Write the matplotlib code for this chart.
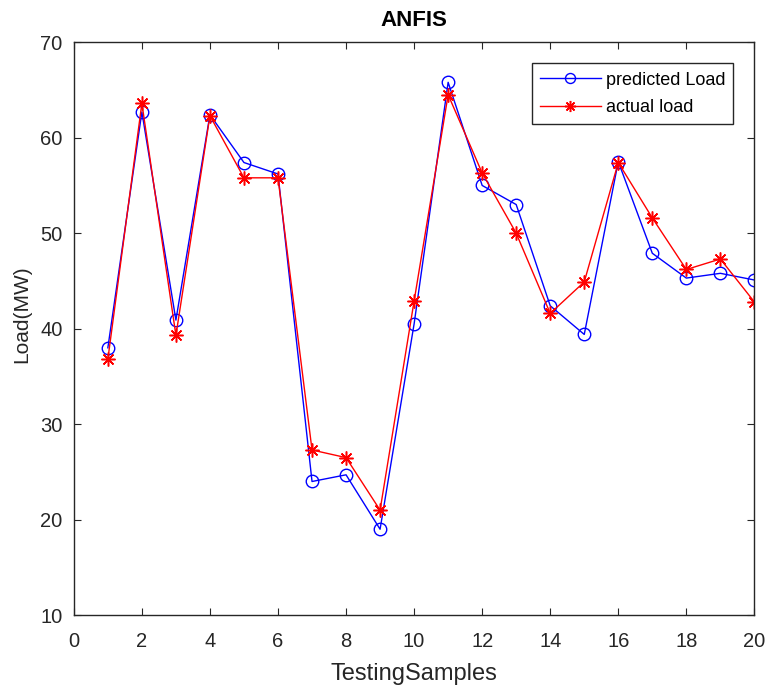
import numpy as np
import matplotlib
matplotlib.use('Agg')
import matplotlib.pyplot as plt

# testing samples
samples = np.arange(1, 21)

# ANFIS predicted load (MW)
predicted = [38.0, 62.7, 40.9, 62.4, 57.4, 56.2, 24.0, 24.7, 19.0, 40.5,
             65.8, 55.0, 53.0, 42.4, 39.4, 57.5, 47.9, 45.3, 45.8, 45.1]

# actual load (MW)
actual = [36.8, 63.6, 39.3, 62.3, 55.8, 55.8, 27.3, 26.5, 21.0, 42.9,
          64.5, 56.3, 50.0, 41.6, 44.9, 57.4, 51.6, 46.2, 47.3, 42.8]

plt.rcParams['font.family'] = ['Liberation Sans', 'DejaVu Sans']

fig = plt.figure(figsize=(7.69, 6.92), dpi=100)
ax = fig.add_axes([0.096, 0.111, 0.885, 0.828])

ax.plot(samples, predicted, color='#0000ff', lw=1, marker='o', ms=9,
        mfc='none', mec='#0000ff', mew=1, label='predicted Load')
ax.plot(samples, actual, color='#ff0000', lw=1, marker=(8, 2, 0), ms=10,
        mec='#ff0000', mew=1.1, label='actual load')

ax.set_xlim(0, 20)
ax.set_ylim(10, 70)
ax.set_xticks(np.arange(0, 21, 2))
ax.set_yticks(np.arange(10, 71, 10))

ax.tick_params(direction='in', top=True, right=True, length=5,
               labelsize=14.5, colors='#262626')
ax.tick_params(axis='x', pad=12)
ax.tick_params(axis='y', pad=8)
for s in ax.spines.values():
    s.set_color('#262626')
    s.set_linewidth(1)

ax.set_xlabel('TestingSamples', fontsize=17, color='#262626', labelpad=9)
ax.set_ylabel('Load(MW)', fontsize=15, color='#262626')
ax.yaxis.set_label_coords(-0.062, 0.525)
ax.set_title('ANFIS', fontsize=16, fontweight='bold', pad=12)

leg = ax.legend(loc='upper right', bbox_to_anchor=(0.969, 0.963),
                borderaxespad=0, fontsize=13, fancybox=False,
                edgecolor='#262626', framealpha=1, handlelength=3.4,
                handletextpad=0.25, borderpad=0.45, labelspacing=0.6,
                markerscale=0.8)
leg.get_frame().set_linewidth(1)

fig.savefig('out.png', dpi=100)
